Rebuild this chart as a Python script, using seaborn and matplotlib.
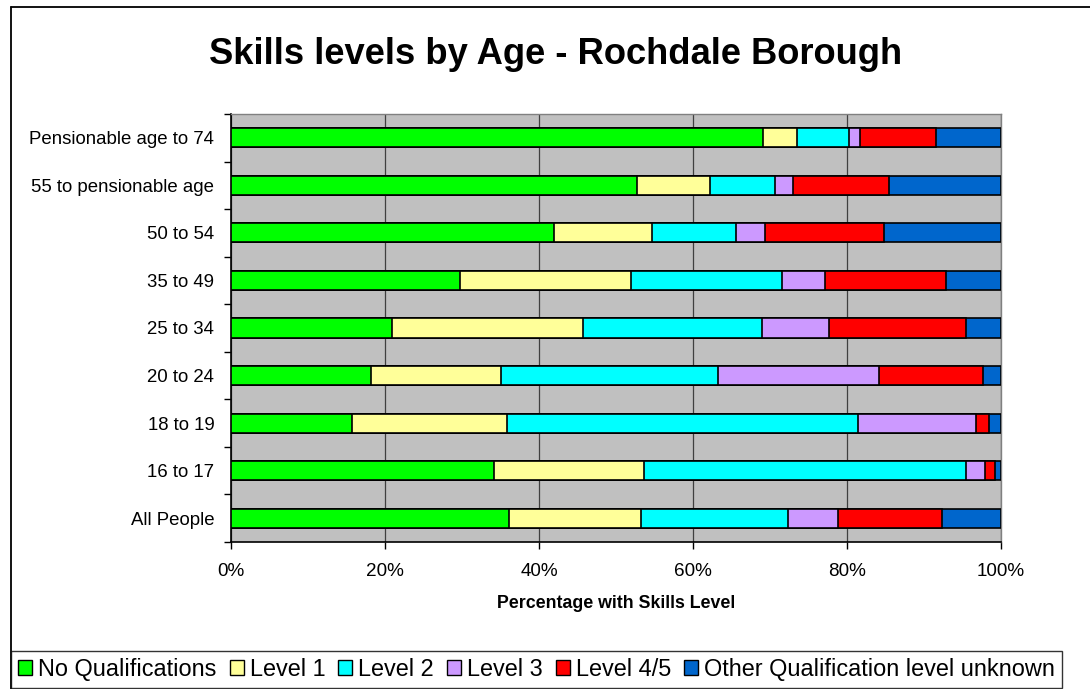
import matplotlib
matplotlib.use("Agg")
import matplotlib.pyplot as plt
import seaborn as sns
import pandas as pd
from matplotlib.lines import Line2D
from matplotlib.patches import Patch

# ---- data (top to bottom as shown) ----
categories = ["Pensionable age to 74", "55 to pensionable age", "50 to 54",
              "35 to 49", "25 to 34", "20 to 24", "18 to 19", "16 to 17",
              "All People"]
series_names = ["No Qualifications", "Level 1", "Level 2", "Level 3",
                "Level 4/5", "Other Qualification level unknown"]
no_qual = [69.1, 52.7, 41.9, 29.7, 20.9, 18.2, 15.7, 34.1, 36.1]
level_1 = [4.4, 9.5, 12.8, 22.3, 24.8, 16.9, 20.2, 19.6, 17.2]
level_2 = [6.8, 8.5, 10.9, 19.6, 23.3, 28.2, 45.5, 41.8, 19.0]
level_3 = [1.4, 2.3, 3.8, 5.5, 8.6, 20.8, 15.3, 2.4, 6.5]
level_45 = [9.8, 12.4, 15.4, 15.8, 17.8, 13.5, 1.7, 1.3, 13.6]
other = [8.5, 14.6, 15.2, 7.1, 4.6, 2.4, 1.6, 0.8, 7.6]
x_ticks = [0, 20, 40, 60, 80, 100]
x_tick_labels = ["0%", "20%", "40%", "60%", "80%", "100%"]
colors = ["#00FF00", "#FFFF99", "#00FFFF", "#CC99FF", "#FF0000", "#0066CC"]

series_values = [no_qual, level_1, level_2, level_3, level_45, other]
df = pd.DataFrame({"Age": categories})
for name, vals in zip(series_names, series_values):
    df[name] = vals
cum = df[series_names].cumsum(axis=1)
for name in series_names:
    df["cum_" + name] = cum[name]

sns.set_style("white")
plt.rcParams["font.family"] = ["Liberation Sans", "DejaVu Sans"]
plt.rcParams["text.color"] = "black"
plt.rcParams["axes.labelcolor"] = "black"
plt.rcParams["xtick.color"] = "black"
plt.rcParams["ytick.color"] = "black"

fig = plt.figure(figsize=(10.9, 6.89), dpi=100)
ax = fig.add_axes([231 / 1090, 1 - 542 / 689, 770 / 1090, 428 / 689])
ax.set_facecolor("#C0C0C0")

# stacked bars drawn as overlapping cumulative bars (largest first)
for name, col in reversed(list(zip(series_names, colors))):
    sns.barplot(data=df, x="cum_" + name, y="Age", order=categories,
                color=col, saturation=1, edgecolor="black", linewidth=1.2,
                width=0.4, orient="h", errorbar=None, ax=ax, zorder=3)

ax.set_xlim(0, 100)
ax.set_ylim(8.5, -0.5)
ax.set_axisbelow(True)
ax.xaxis.grid(True, color="#404040", linewidth=0.9)
ax.yaxis.grid(False)

ax.set_xticks(x_ticks)
ax.set_xticklabels(x_tick_labels, fontsize=13.6, color="black")
ax.tick_params(axis="x", direction="out", length=5, width=1, pad=10,
               color="black", bottom=True)

ax.set_yticks(range(len(categories)))
ax.set_yticklabels(categories, fontsize=13.4, color="black")
ax.tick_params(axis="y", which="major", length=0, pad=12, left=False)
ax.set_yticks([i - 0.5 for i in range(len(categories) + 1)], minor=True)
ax.tick_params(axis="y", which="minor", direction="out", length=5, width=1,
               color="black", left=True)

ax.set_ylabel("")
ax.set_xlabel("Percentage with Skills Level", fontsize=12.8, fontweight="bold",
              labelpad=11, color="black")

for s in ["top", "right"]:
    ax.spines[s].set_color("#808080")
    ax.spines[s].set_linewidth(1)
for s in ["left", "bottom"]:
    ax.spines[s].set_color("black")
    ax.spines[s].set_linewidth(1.2)

fig.text(556 / 1090, 1 - 54 / 689, "Skills levels by Age - Rochdale Borough",
         ha="center", va="center", fontsize=26.2, fontweight="bold",
         color="black")

# outer chart border (top and left visible)
fig.add_artist(Line2D([11 / 1090, 1.0], [1 - 7 / 689, 1 - 7 / 689],
                      transform=fig.transFigure, color="black", lw=1.3))
fig.add_artist(Line2D([11 / 1090, 11 / 1090], [0.0, 1 - 7 / 689],
                      transform=fig.transFigure, color="black", lw=1.3))

handles = [Patch(facecolor=c, edgecolor="black", linewidth=1) for c in colors]
leg = fig.legend(handles, series_names, ncol=6, loc="upper left",
                 bbox_to_anchor=(11 / 1090, 1 - 651 / 689),
                 fontsize=16.9, frameon=True, fancybox=False,
                 edgecolor="black", handlelength=0.6, handleheight=0.6,
                 handletextpad=0.26, columnspacing=0.55, borderpad=0.3,
                 borderaxespad=0)
leg.get_frame().set_linewidth(1)
for t in leg.get_texts():
    t.set_color("black")

fig.savefig("out.png", dpi=100)
